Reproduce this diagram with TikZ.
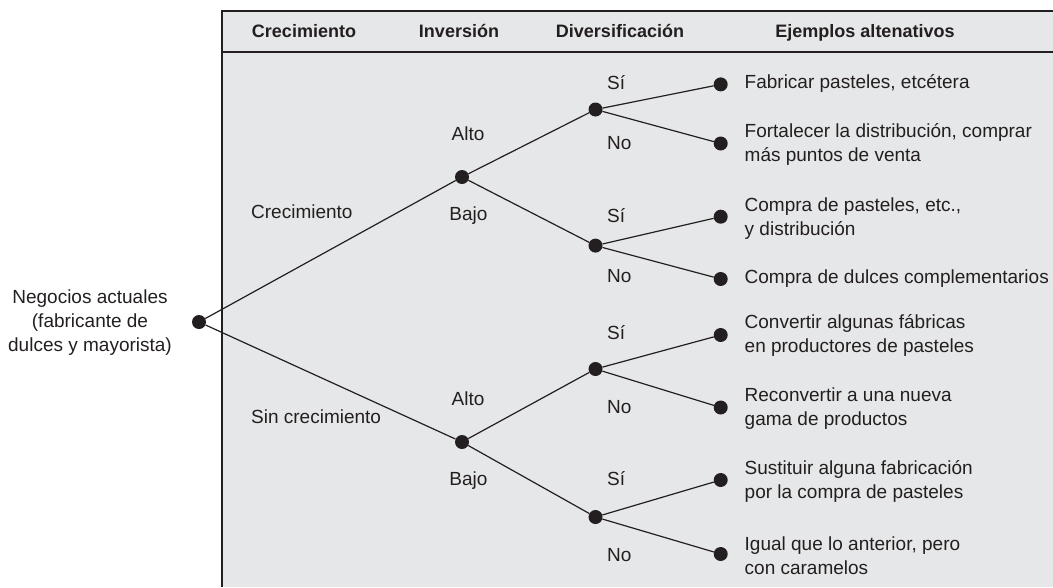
\documentclass[tikz,border=0pt]{standalone}
\usepackage{fontspec}
\setmainfont{Liberation Sans}
\definecolor{bg}{HTML}{E6E7E8}
\definecolor{ink}{HTML}{231F20}
\begin{document}
\begin{tikzpicture}[x=1pt,y=-1pt,
  txt/.style={font=\fontsize{19}{24}\selectfont, text=ink, inner sep=0pt},
  lbl/.style={txt, text height=13.6pt, text depth=0pt},
  hdr/.style={font=\bfseries\fontsize{18}{22}\selectfont, text=ink, inner sep=0pt, text height=12.9pt, text depth=0pt},
  dot/.style={circle, fill=ink, inner sep=0pt, minimum size=14pt},
  branch/.style={draw=ink, line width=1.2pt},
  frame/.style={draw=ink, line width=2.6pt}
]
\useasboundingbox (0,0) rectangle (1053,587);
\fill[bg] (222,11) rectangle (1053,587);
\draw[frame] (1053,11) -- (222,11) -- (222,587);
\draw[frame] (222,52) -- (1053,52);

% headers
\node[hdr] (h1) at (304,31) {Crecimiento};
\node[hdr] (h2) at (459,31) {Inversión};
\node[hdr] (h3) at (620,31) {Diversificación};
\node[hdr] (h4) at (865,31) {Ejemplos altenativos};

% dots
\node[dot] (r) at (199,322) {};
\node[dot] (g) at (462,177) {};
\node[dot] (n) at (462,442) {};
\node[dot] (d1) at (595.5,109.5) {};
\node[dot] (d2) at (595.5,245.6) {};
\node[dot] (d3) at (595.5,369) {};
\node[dot] (d4) at (595.5,517) {};
\node[dot] (l1) at (720.7,84.4) {};
\node[dot] (l2) at (720.7,143.5) {};
\node[dot] (l3) at (720.7,216.7) {};
\node[dot] (l4) at (720.7,279) {};
\node[dot] (l5) at (720.7,335) {};
\node[dot] (l6) at (720.7,407.5) {};
\node[dot] (l7) at (720.7,480) {};
\node[dot] (l8) at (720.7,554) {};

% branches
\draw[branch] (r) -- (g);
\draw[branch] (r) -- (n);
\draw[branch] (g) -- (d1);
\draw[branch] (g) -- (d2);
\draw[branch] (n) -- (d3);
\draw[branch] (n) -- (d4);
\draw[branch] (d1) -- (l1);
\draw[branch] (d1) -- (l2);
\draw[branch] (d2) -- (l3);
\draw[branch] (d2) -- (l4);
\draw[branch] (d3) -- (l5);
\draw[branch] (d3) -- (l6);
\draw[branch] (d4) -- (l7);
\draw[branch] (d4) -- (l8);

% root text
\node[txt, align=center] (rt) at (90,322.8) {Negocios actuales\\(fabricante de\\dulces y mayorista)};

% growth labels
\node[lbl, anchor=west] (c1) at (251,212) {Crecimiento};
\node[lbl, anchor=west] (c2) at (251,417) {Sin crecimiento};

% investment labels
\node[lbl] (a1) at (468,134) {Alto};
\node[lbl] (b1) at (468.5,213.5) {Bajo};
\node[lbl] (a2) at (468,399) {Alto};
\node[lbl] (b2) at (468.5,478.6) {Bajo};

% diversification labels
\node[lbl, anchor=west] (s1) at (607,82.6) {Sí};
\node[lbl, anchor=west] (o1) at (607,143) {No};
\node[lbl, anchor=west] (s2) at (607,216) {Sí};
\node[lbl, anchor=west] (o2) at (607,276) {No};
\node[lbl, anchor=west] (s3) at (607,333) {Sí};
\node[lbl, anchor=west] (o3) at (607,406.5) {No};
\node[lbl, anchor=west] (s4) at (607,479) {Sí};
\node[lbl, anchor=west] (o4) at (607,555) {No};

% examples
\node[txt, anchor=west, align=left] (e1) at (744.5,83) {Fabricar pasteles, etcétera};
\node[txt, anchor=west, align=left] (e2) at (744.5,144.8) {Fortalecer la distribución, comprar\\más puntos de venta};
\node[txt, anchor=west, align=left] (e3) at (744.5,218.8) {Compra de pasteles, etc.,\\y distribución};
\node[txt, anchor=west, align=left] (e4) at (744.5,279) {Compra de dulces complementarios};
\node[txt, anchor=west, align=left] (e5) at (744.5,335.4) {Convertir algunas fábricas\\en productores de pasteles};
\node[txt, anchor=west, align=left] (e6) at (744.5,408.6) {Reconvertir a una nueva\\gama de productos};
\node[txt, anchor=west, align=left] (e7) at (744.5,481.8) {Sustituir alguna fabricación\\por la compra de pasteles};
\node[txt, anchor=west, align=left] (e8) at (744.5,555.5) {Igual que lo anterior, pero\\con caramelos};
\end{tikzpicture}
\end{document}
